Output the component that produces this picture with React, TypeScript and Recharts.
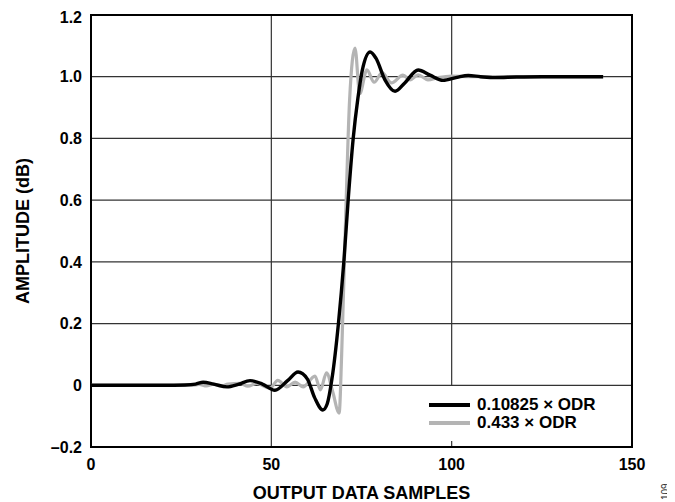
import { LineChart, Line, XAxis, YAxis, CartesianGrid, ReferenceArea } from "recharts";

// filter response
const narrowX = [0, 10, 20, 26, 29, 31.1, 34, 37.7, 41, 44.1, 47.5, 51, 54.5, 57.4, 60, 62, 64.3, 65.5, 66.8, 68.6, 70.1, 71.3, 72.7, 74, 75.2, 77.4, 79, 81.5, 84.3, 87, 90.7, 94, 97.6, 101.5, 104.6, 108, 112, 118, 125, 142];
const narrowY = [0, 0, 0, 0.001, 0.004, 0.01, 0.004, -0.005, 0.004, 0.015, 0.004, -0.016, 0.015, 0.043, 0.02, -0.04, -0.08, -0.06, 0.02, 0.2, 0.4, 0.6, 0.8, 0.93, 1.02, 1.08, 1.06, 0.99, 0.953, 0.98, 1.022, 1.005, 0.988, 0.998, 1.004, 1.0, 0.997, 0.999, 1.0, 1.0];

const wideX = [0, 28, 30, 32, 34, 36, 38, 41.3, 43.5, 45.9, 49.6, 51.8, 54.3, 56.6, 58.8, 62.1, 63.6, 65.3, 67, 68.8, 69.5, 70.5, 71.7, 73.2, 74.5, 76.5, 78.5, 80.7, 83.3, 86.5, 88.5, 90.7, 93.4, 96.2, 100, 105, 142];
const wideY = [0, 0, 0.003, -0.002, 0.004, -0.003, 0.004, 0.006, -0.003, 0.006, -0.01, 0.016, -0.005, 0.01, -0.005, 0.03, -0.015, 0.04, -0.02, -0.09, 0.1, 0.5, 0.925, 1.093, 0.945, 1.022, 0.982, 1.013, 0.98, 1.005, 0.99, 1.006, 0.99, 0.997, 1.002, 1.0, 1.0];

const xTicks = [0, 50, 100, 150];
const yTicks = [-0.2, 0, 0.2, 0.4, 0.6, 0.8, 1.0, 1.2];

const legendItems = [
  { label: "0.10825 × ODR", color: "#000000" },
  { label: "0.433 × ODR", color: "#b4b4b4" },
];

const narrowData = narrowX.map((x, i) => ({ x, y: narrowY[i] }));
const wideData = wideX.map((x, i) => ({ x, y: wideY[i] }));

const FONT = "'Liberation Sans', Arial, sans-serif";

const fmtY = (v: number) => {
  if (Math.abs(v) < 1e-9) return "0";
  if (v < 0) return "–" + Math.abs(v).toFixed(1);
  return v.toFixed(1);
};

const YLabel = () => (
  <text
    x={15}
    y={223}
    transform="rotate(-90, 15, 223)"
    textAnchor="middle"
    dy="0.35em"
    fontFamily={FONT}
    fontWeight="bold"
    fontSize={18}
    fill="#000"
  >
    AMPLITUDE (dB)
  </text>
);

const App = () => {
  return (
    <div style={{ position: "relative", width: 659, height: 494, fontFamily: FONT }}>
      <LineChart width={659} height={494} margin={{ top: 7, right: 35, left: 0, bottom: 0 }}>
        <CartesianGrid stroke="#333" strokeWidth={1.2} horizontalValues={yTicks} verticalValues={[50, 100]} />
        <XAxis
          dataKey="x"
          type="number"
          domain={[0, 150]}
          ticks={xTicks}
          height={55}
          tickSize={0}
          tickMargin={12}
          axisLine={false}
          tick={{ fill: "#000", fontSize: 16, fontWeight: "bold", fontFamily: FONT }}
          label={{ value: "OUTPUT DATA SAMPLES", position: "insideBottom", offset: 3, fill: "#000", fontSize: 18, fontWeight: "bold", fontFamily: FONT }}
        />
        <YAxis
          type="number"
          domain={[-0.2, 1.2]}
          ticks={yTicks}
          width={83}
          tickSize={0}
          tickMargin={9}
          axisLine={false}
          tickFormatter={fmtY}
          tick={{ fill: "#000", fontSize: 16, fontWeight: "bold", fontFamily: FONT }}
          label={<YLabel />}
        />
        <Line data={wideData} dataKey="y" type="monotone" stroke="#b4b4b4" strokeWidth={3.2} dot={false} activeDot={false} isAnimationActive={false} />
        <Line data={narrowData} dataKey="y" type="monotone" stroke="#000" strokeWidth={3.4} dot={false} activeDot={false} isAnimationActive={false} />
        <ReferenceArea x1={0} x2={150} y1={-0.2} y2={1.2} fill="none" fillOpacity={0} stroke="#000" strokeWidth={2} />
      </LineChart>
      <div style={{ position: "absolute", left: 412, top: 378, width: 210, height: 55, background: "#fff" }}>
        {legendItems.map((it, i) => (
          <div key={it.label} style={{ position: "absolute", left: 9, top: 8 + i * 18, height: 22, display: "flex", alignItems: "center" }}>
            <div style={{ width: 41, height: 4, background: it.color }} />
            <span style={{ marginLeft: 7, fontSize: 17, fontWeight: "bold", color: "#000", lineHeight: "22px", whiteSpace: "nowrap" }}>{it.label}</span>
          </div>
        ))}
      </div>
      <div style={{ position: "absolute", left: 653, top: 492, fontSize: 10, lineHeight: "10px", color: "#333", transform: "rotate(-90deg)", transformOrigin: "left top", whiteSpace: "nowrap" }}>
        109
      </div>
    </div>
  );
};

export default App;
